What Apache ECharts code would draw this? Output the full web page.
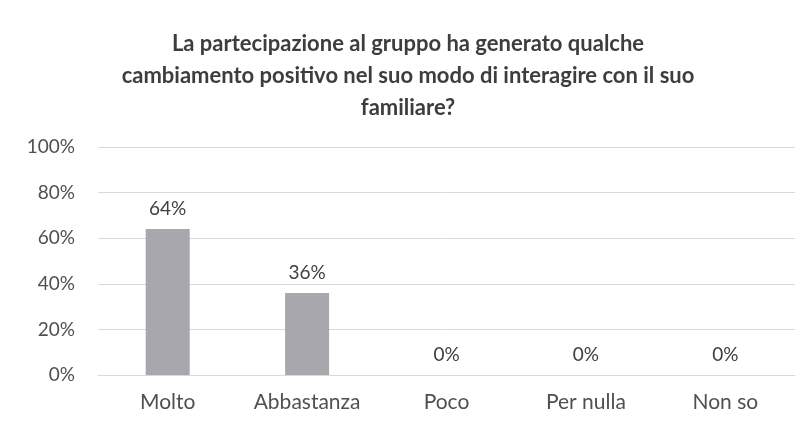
<!DOCTYPE html>
<html lang="it">
<head>
  <meta charset="UTF-8">
  <title>Partecipazione al gruppo</title>
  <script src="https://cdn.jsdelivr.net/npm/echarts@6/dist/echarts.min.js"></script>
  <style>
    html, body { margin: 0; padding: 0; background: #fff; }
    #chart { width: 811px; height: 427px; }
  </style>
</head>
<body>
  <div id="chart"></div>
  <script>
    const categories = ['Molto', 'Abbastanza', 'Poco', 'Per nulla', 'Non so'];
    const values = [64, 36, 0, 0, 0];
    const yTicks = [0, 20, 40, 60, 80, 100];

    let chart = echarts.init(document.getElementById('chart'));

    const option = {
      animation: false,
      title: {
        text: 'La partecipazione al gruppo ha generato qualche\ncambiamento positivo nel suo modo di interagire con il suo\nfamiliare?',
        left: 403,
        top: 23,
        textAlign: 'center',
        textStyle: {
          fontFamily: 'Lato',
          fontWeight: 'bold',
          fontSize: 22,
          lineHeight: 32,
          color: '#3d3d3d'
        }
      },
      grid: { left: 98, right: 16, top: 147, bottom: 52, containLabel: false },
      xAxis: {
        type: 'category',
        data: categories,
        axisLine: { show: true, lineStyle: { color: '#d9d9d9' } },
        axisTick: { show: false },
        axisLabel: {
          margin: 17,
          fontFamily: 'Lato',
          fontSize: 21,
          color: '#505050'
        }
      },
      yAxis: {
        type: 'value',
        min: yTicks[0],
        max: yTicks[yTicks.length - 1],
        interval: 20,
        axisLine: { show: false },
        axisTick: { show: false },
        splitLine: { lineStyle: { color: '#d9d9d9' } },
        axisLabel: {
          margin: 23,
          fontFamily: 'Lato',
          fontSize: 19,
          color: '#505050',
          formatter: '{value}%'
        }
      },
      series: [{
        type: 'bar',
        data: values,
        barWidth: 44,
        itemStyle: { color: '#a7a7ad' },
        label: {
          show: true,
          position: 'top',
          distance: 11,
          fontFamily: 'Lato',
          fontSize: 19,
          color: '#404040',
          formatter: '{c}%'
        }
      }]
    };

    chart.setOption(option);
  </script>
</body>
</html>
